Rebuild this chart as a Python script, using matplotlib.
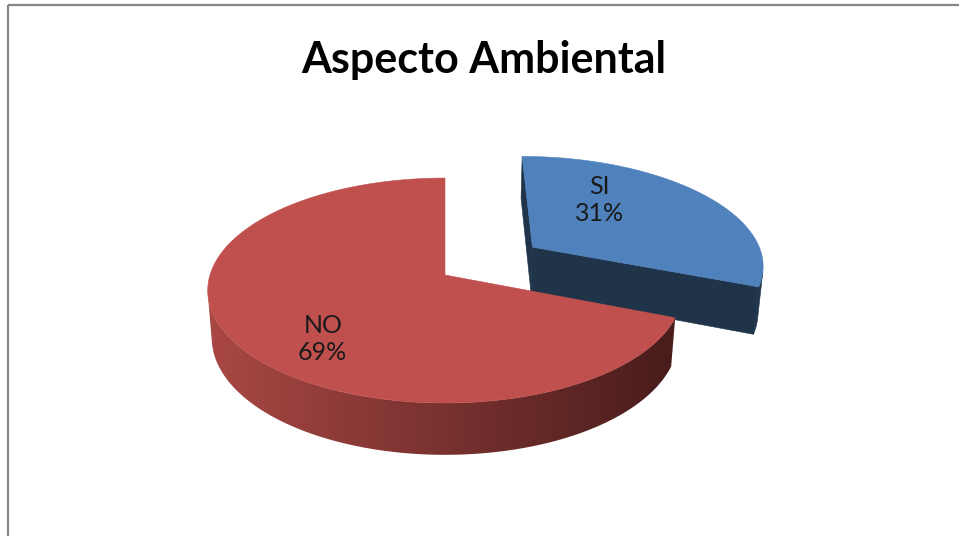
import numpy as np
import matplotlib.pyplot as plt
from matplotlib.patches import Polygon

# --- datos ---
labels = ['SI', 'NO']
values = [31, 69]
top_colors = ['#4F81BD', '#C0504D']
title = 'Aspecto Ambiental'

# --- geometria del pastel 3D (pixeles) ---
W, H = 959, 536
CX, CY = 445, 275        # centro de la cara superior
S = 235                  # escala (radio)
ELEV = np.radians(28)    # inclinacion
DIST = 6.4               # distancia de camara (perspectiva)
THICK = 0.23             # grosor
explode = [0.466, 0.0]
label_r = [0.38, 0.60]
label_dy = [-26, 25]

SI_SIDE = '#1F3349'
NO_SIDE_L = (170, 72, 68)
NO_SIDE_R = (74, 29, 28)


def proj(x, y, z):
    v = y * np.sin(ELEV) + z * np.cos(ELEV)
    w = y * np.cos(ELEV) - z * np.sin(ELEV)
    f = DIST / (DIST + w)
    return CX + S * x * f, CY - S * v * f


def area(pts):
    pts = np.asarray(pts)
    x, y = pts[:, 0], pts[:, 1]
    return 0.5 * np.sum(x * np.roll(y, -1) - np.roll(x, -1) * y)


fig = plt.figure(figsize=(W / 100, H / 100), dpi=100)
ax = fig.add_axes([0, 0, 1, 1])
ax.set_xlim(0, W)
ax.set_ylim(H, 0)
ax.axis('off')

# marco
ax.plot([8, W], [5, 5], color='#868686', lw=1.6, solid_capstyle='butt')
ax.plot([8, 8], [5, H], color='#868686', lw=1.6, solid_capstyle='butt')

# degradado para el lateral rojo (de x=205 a x=667, extendido en los bordes)
gx = np.linspace(190, 690, 300)
t = np.clip((gx - 205) / (667 - 205), 0, 1)[None, :, None]
grad_img = (np.array(NO_SIDE_L)[None, None, :] * (1 - t) +
            np.array(NO_SIDE_R)[None, None, :] * t) / 255.0

frac = np.cumsum([0] + values) / float(sum(values))
z = 2

for i in range(len(values)):
    t0 = 90 - 360 * frac[i]
    t1 = 90 - 360 * frac[i + 1]
    mid = np.radians((t0 + t1) / 2)
    ox, oy = explode[i] * np.cos(mid), explode[i] * np.sin(mid)
    th = np.radians(np.linspace(t0, t1, 400))
    rx, ry = ox + np.cos(th), oy + np.sin(th)

    apex_t = proj(ox, oy, 0)
    apex_b = proj(ox, oy, -THICK)
    topr = [proj(a, b, 0) for a, b in zip(rx, ry)]
    botr = [proj(a, b, -THICK) for a, b in zip(rx, ry)]
    top = [apex_t] + topr

    faces = []
    # caras radiales
    f_start = [apex_t, topr[0], botr[0], apex_b]
    f_end = [apex_t, apex_b, botr[-1], topr[-1]]
    for face in (f_start, f_end):
        if area(face) < 0:
            faces.append(face)

    # lateral exterior visible
    vis = [k for k in range(len(th) - 1)
           if area([topr[k], topr[k + 1], botr[k + 1], botr[k]]) < 0]
    if vis:
        k0, k1 = vis[0], vis[-1] + 1
        faces.append(topr[k0:k1 + 1] + botr[k0:k1 + 1][::-1])

    for face in faces:
        if i == 0:
            ax.add_patch(Polygon(face, closed=True, facecolor=SI_SIDE,
                                 edgecolor=SI_SIDE, lw=0.4, zorder=z))
        else:
            clip = Polygon(face, closed=True, facecolor='none',
                           edgecolor='none', zorder=z)
            ax.add_patch(clip)
            im = ax.imshow(grad_img, extent=(190, 690, 480, 240), aspect='auto',
                           interpolation='bilinear', zorder=z)
            im.set_clip_path(clip)
        z += 1

    # cara superior
    ax.add_patch(Polygon(top, closed=True, facecolor=top_colors[i],
                         edgecolor=top_colors[i], lw=0.4, zorder=z))
    z += 1

    # etiqueta
    lx, ly = proj(ox + label_r[i] * np.cos(mid), oy + label_r[i] * np.sin(mid), 0)
    ax.text(lx, ly + label_dy[i], f'{labels[i]}\n{values[i]}%',
            ha='center', va='center', fontsize=18, family='Lato',
            color='#1a1a1a', linespacing=1.2, zorder=50)

ax.text(484, 60, title, ha='center', va='center', fontsize=31,
        fontweight='bold', family='Lato', color='black')

ax.set_xlim(0, W)
ax.set_ylim(H, 0)
fig.savefig('out.png', dpi=100)
